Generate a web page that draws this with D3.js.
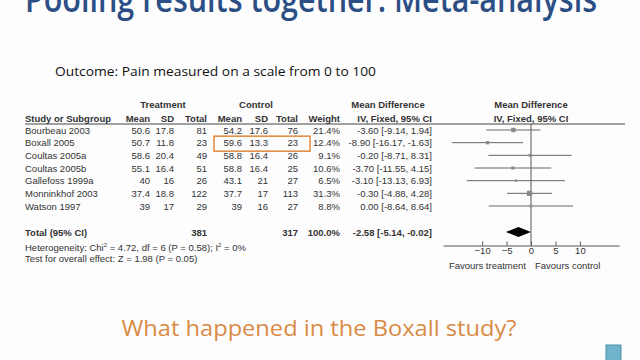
<!DOCTYPE html>
<html><head><meta charset="utf-8">
<script src="https://cdn.jsdelivr.net/npm/d3@7"></script>
<style>
html,body{margin:0;padding:0;background:#fdfdfe;}
svg{display:block;}
</style></head>
<body>
<svg id="c" width="640" height="360"></svg>
<script>
const studies = ["Bourbeau 2003","Boxall 2005","Coultas 2005a","Coultas 2005b","Gallefoss 1999a","Monninkhof 2003","Watson 1997"];
const tMean = [50.6,50.7,58.6,55.1,40,37.4,39];
const tSD = [17.8,11.8,20.4,16.4,16,18.8,17];
const tTotal = [81,23,49,51,26,122,29];
const cMean = [54.2,59.6,58.8,58.8,43.1,37.7,39];
const cSD = [17.6,13.3,16.4,16.4,21,17,16];
const cTotal = [76,23,26,25,27,113,27];
const weight = [21.4,12.4,9.1,10.6,6.5,31.3,8.8];
const md = [-3.60,-8.90,-0.20,-3.70,-3.10,-0.30,0.00];
const lo = [-9.14,-16.17,-8.71,-11.55,-13.13,-4.88,-8.64];
const hi = [1.94,-1.63,8.31,4.15,6.93,4.28,8.64];
const pooled = {md:-2.58, lo:-5.14, hi:-0.02, tTotal:381, cTotal:317, weight:100.0};
const tickVals = [-10,-5,0,5,10];

const svg = d3.select("#c");
const F = "'Liberation Sans', Arial, sans-serif";
const txt = "#333";
const FS = 9.5;

// Title (cut off at top)
svg.append("text").attr("x",25).attr("y",12)
  .attr("font-family","'Open Sans', sans-serif").attr("font-weight",600)
  .attr("font-size",36).attr("fill","#2b4f85")
  .attr("textLength",572).attr("lengthAdjust","spacingAndGlyphs")
  .text("Pooling results together: Meta-analysis");

svg.append("text").attr("x",55).attr("y",76)
  .attr("font-family","'Open Sans', sans-serif").attr("font-size",12).attr("fill","#111")
  .attr("textLength",321).attr("lengthAdjust","spacingAndGlyphs")
  .text("Outcome: Pain measured on a scale from 0 to 100");

// Row positions
const y = d3.scalePoint().domain(studies).range([130,206]);

const g = svg.append("g").attr("font-family",F).attr("font-size",FS).attr("fill",txt);

// Group headers
g.append("text").attr("x",163).attr("y",108).attr("text-anchor","middle").attr("font-weight","bold").text("Treatment");
g.append("text").attr("x",256).attr("y",108).attr("text-anchor","middle").attr("font-weight","bold").text("Control");
g.append("text").attr("x",388).attr("y",108).attr("text-anchor","middle").attr("font-weight","bold").text("Mean Difference");
g.append("text").attr("x",531).attr("y",108).attr("text-anchor","middle").attr("font-weight","bold").text("Mean Difference");

const cols = [
  {x:25, a:"start", h:"Study or Subgroup", v:i=>studies[i]},
  {x:150, a:"end", h:"Mean", v:i=>String(tMean[i])},
  {x:174, a:"end", h:"SD", v:i=>String(tSD[i])},
  {x:207, a:"end", h:"Total", v:i=>String(tTotal[i])},
  {x:242, a:"end", h:"Mean", v:i=>String(cMean[i])},
  {x:268, a:"end", h:"SD", v:i=>String(cSD[i])},
  {x:298, a:"end", h:"Total", v:i=>String(cTotal[i])},
  {x:340, a:"end", h:"Weight", v:i=>weight[i].toFixed(1)+"%"},
  {x:432, a:"end", h:"IV, Fixed, 95% CI", v:i=>md[i].toFixed(2)+" [" + lo[i].toFixed(2)+", "+hi[i].toFixed(2)+"]"}
];
cols.forEach((c,ci)=>{
  g.append("text").attr("x", c.x).attr("y",121.5)
    .attr("text-anchor", c.a).attr("font-weight","bold").text(c.h);
  g.selectAll(null).data(studies).enter().append("text")
    .attr("x",c.x).attr("y",d=>y(d)+3.5).attr("text-anchor",c.a)
    .text((d,i)=>c.v(i));
});
g.append("text").attr("x",531).attr("y",121.5).attr("text-anchor","middle").attr("font-weight","bold").text("IV, Fixed, 95% CI");

// header rule
svg.append("line").attr("x1",25).attr("x2",625).attr("y1",124).attr("y2",124).attr("stroke","#444").attr("stroke-width",1);

// Total row
const yT = 232;
g.append("text").attr("x",25).attr("y",yT+3.5).attr("font-weight","bold").text("Total (95% CI)");
g.append("text").attr("x",207).attr("y",yT+3.5).attr("text-anchor","end").attr("font-weight","bold").text(pooled.tTotal);
g.append("text").attr("x",298).attr("y",yT+3.5).attr("text-anchor","end").attr("font-weight","bold").text(pooled.cTotal);
g.append("text").attr("x",340).attr("y",yT+3.5).attr("text-anchor","end").attr("font-weight","bold").text(pooled.weight.toFixed(1)+"%");
g.append("text").attr("x",432).attr("y",yT+3.5).attr("text-anchor","end").attr("font-weight","bold")
  .text(pooled.md.toFixed(2)+" ["+pooled.lo.toFixed(2)+", "+pooled.hi.toFixed(2)+"]");
const het = g.append("text").attr("x",25).attr("y",250.5);
het.append("tspan").text("Heterogeneity: Chi");
het.append("tspan").attr("font-size",6).attr("dy",-3.5).text("2");
het.append("tspan").attr("dy",3.5).text(" = 4.72, df = 6 (P = 0.58); I");
het.append("tspan").attr("font-size",6).attr("dy",-3.5).text("2");
het.append("tspan").attr("dy",3.5).text(" = 0%");
g.append("text").attr("x",25).attr("y",261.5).text("Test for overall effect: Z = 1.98 (P = 0.05)");

// Orange highlight box
svg.append("rect").attr("x",214).attr("y",y("Boxall 2005")-6.5).attr("width",96).attr("height",15)
  .attr("fill","none").attr("stroke","#e0883a").attr("stroke-width",1.5);

// Forest plot
const x = d3.scaleLinear().domain([-18,18]).range([443,619]);
const axisY = 245.5;
svg.append("line").attr("x1",x(0)).attr("x2",x(0)).attr("y1",124).attr("y2",axisY).attr("stroke","#555").attr("stroke-width",1);

const pg = svg.append("g");
pg.selectAll(".ci").data(studies).enter().append("line")
  .attr("x1",(d,i)=>x(lo[i])).attr("x2",(d,i)=>x(hi[i]))
  .attr("y1",d=>y(d)).attr("y2",d=>y(d)).attr("stroke","#666").attr("stroke-width",1);
pg.selectAll(".sq").data(studies).enter().append("rect")
  .each(function(d,i){
    const s = Math.sqrt(weight[i])*0.95;
    d3.select(this).attr("x",x(md[i])-s/2).attr("y",y(d)-s/2).attr("width",s).attr("height",s);
  }).attr("fill","#8a8a8a");

// diamond
const dh = 5;
pg.append("path").attr("d",`M${x(pooled.lo)},${yT} L${x(pooled.md)},${yT-dh} L${x(pooled.hi)},${yT} L${x(pooled.md)},${yT+dh} Z`).attr("fill","#000");

// axis
const ax = svg.append("g").attr("transform",`translate(0,${axisY})`)
  .call(d3.axisBottom(x).tickValues(tickVals).tickSizeInner(-4).tickSizeOuter(0).tickPadding(2).tickFormat(d3.format("d")));
ax.select(".domain").attr("stroke","#555");
ax.selectAll(".tick line").attr("stroke","#555");
ax.selectAll(".tick text").attr("font-family",F).attr("font-size",FS).attr("fill",txt);

g.append("text").attr("x",x(0)-5).attr("y",268.5).attr("text-anchor","end").text("Favours treatment");
g.append("text").attr("x",x(0)+4).attr("y",268.5).attr("text-anchor","start").text("Favours control");

// Bottom question
svg.append("text").attr("x",319).attr("y",336).attr("text-anchor","middle")
  .attr("font-family","'Open Sans', sans-serif").attr("font-size",21).attr("fill","#d98a45")
  .attr("textLength",395).attr("lengthAdjust","spacingAndGlyphs")
  .text("What happened in the Boxall study?");

// corner square
svg.append("rect").attr("x",606).attr("y",345).attr("width",15).attr("height",16)
  .attr("fill","#70b4cc").attr("stroke","#4f8ea5");
</script>
</body></html>
